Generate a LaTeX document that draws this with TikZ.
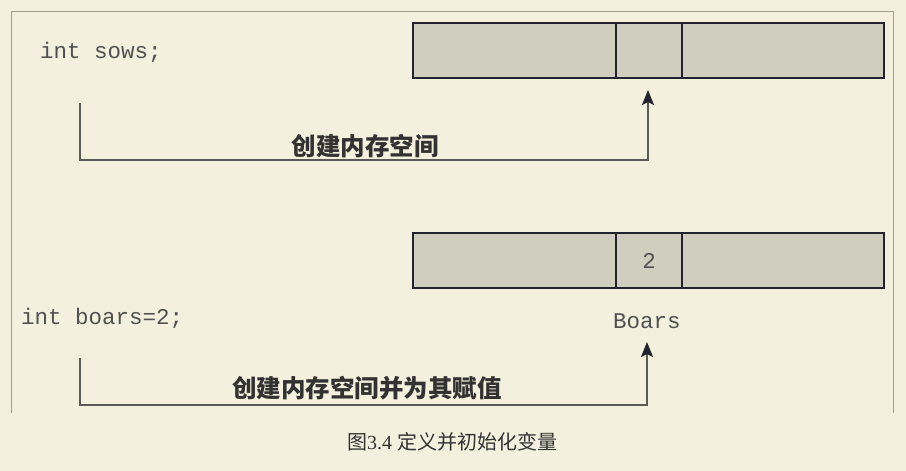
\documentclass[tikz,border=0pt]{standalone}
\usepackage{fontspec}
\setmainfont{Liberation Serif}
\setmonofont{Liberation Mono}
\newfontfamily\cjk{Noto Sans CJK SC}
\usetikzlibrary{arrows.meta,positioning}
\definecolor{bgcream}{RGB}{243,241,222}
\definecolor{boxfill}{RGB}{208,207,191}
\definecolor{boxline}{RGB}{35,35,48}
\definecolor{linegray}{RGB}{90,90,85}
\definecolor{framegray}{RGB}{160,158,140}
\definecolor{codegray}{RGB}{80,80,80}
\definecolor{notegray}{RGB}{50,50,50}

\begin{document}
\begin{tikzpicture}[x=1pt, y=-1pt,
		cell/.style={draw=boxline, line width=2.8pt, fill=boxfill, minimum height=55pt, inner sep=0pt, outer sep=0pt},
		code/.style={font=\ttfamily\fontsize{22.5}{22.5}\selectfont, text=codegray, inner sep=0pt},
		note/.style={font=\cjk\bfseries\fontsize{24.5}{24.5}\selectfont, text=notegray, inner sep=0pt},
		link/.style={draw=linegray, line width=1.8pt, -{Stealth[length=15pt, width=12pt, inset=3pt, color=boxline]}}]
		\fill[bgcream] (0,0) rectangle (906,471);
		\useasboundingbox (0,0) rectangle (906,471);
		\draw[framegray, line width=0.8pt] (11,413) -- (11,11) -- (893,11) -- (893,413);
		
		% Speicher sows
		\node[cell, anchor=north west, minimum width=203pt] (sowsA) at (413,23) {};
		\node[cell, minimum width=66pt, right=0pt of sowsA] (sowsB) {};
		\node[cell, minimum width=202pt, right=0pt of sowsB] (sowsC) {};
		\node[code, anchor=west] (sows) at (40,52) {int sows;};
		
		% Speicher boars
		\node[cell, anchor=north west, minimum width=203pt] (boarsA) at (413,233) {};
		\node[cell, code, minimum width=66pt, minimum height=55pt, right=0pt of boarsA] (boarsB) {2};
		\node[cell, minimum width=202pt, right=0pt of boarsB] (boarsC) {};
		\node[code, anchor=west] (boars) at (21,318) {int boars=2;};
		\node[code] (boarsName) at (647,321) {Boars};
		
		% Pfeile
		\coordinate (sowsFrom) at (80,103);
		\coordinate (sowsTo) at (648,90);
		\draw[link] (sowsFrom) -- ++(0,57) -| (sowsTo);
		\node[note] (sowsNote) at (365,146) {创建内存空间};
		
		\coordinate (boarsFrom) at (80,358);
		\coordinate (boarsTo) at (647,342);
		\draw[link] (boarsFrom) -- ++(0,47) -| (boarsTo);
		\node[note] (boarsNote) at (367,388) {创建内存空间并为其赋值};
		
		\node[font=\fontsize{20}{20}\selectfont, text=notegray] (caption) at (452,442) {{\cjk 图}3.4 {\cjk 定义并初始化变量}};
	\end{tikzpicture}
\end{document}
